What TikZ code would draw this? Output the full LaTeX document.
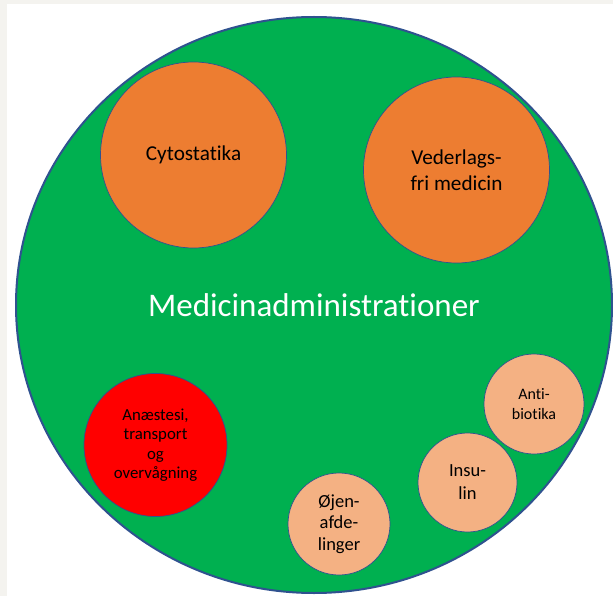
\documentclass[tikz,border=0pt]{standalone}
\usepackage{fontspec}
\setmainfont{Carlito}[Ligatures=NoCommon]
\usetikzlibrary{shapes.geometric}
\definecolor{paper}{HTML}{F4F3EF}
\definecolor{medgreen}{HTML}{00B050}
\definecolor{darkorange}{HTML}{ED7D31}
\definecolor{lightorange}{HTML}{F4B183}
\definecolor{edgeblue}{HTML}{2F528F}

\begin{document}
\begin{tikzpicture}[x=1pt,y=-1pt]
	\tikzstyle{bubble}=[circle,draw=edgeblue,line width=0.7pt,align=center,inner sep=0pt,text=black]
	\tikzstyle{big}=[bubble,fill=darkorange,minimum size=186pt,font=\fontsize{21.2}{26}\selectfont]
	\tikzstyle{small}=[bubble,fill=lightorange,minimum size=100pt,font=\fontsize{18.5}{22}\selectfont]
	% background
	\fill[paper] (0,0) rectangle (613,596);
	\fill[white] (7,4) rectangle (613,596);
	\node[ellipse,draw=edgeblue,line width=2pt,fill=medgreen,minimum width=596pt,minimum height=576pt,text=white,font=\fontsize{33}{40}\selectfont](med) at (314,305) {Medicinadministrationer};
	\node[big](cyt) at (193.5,155) {Cytostatika};
	\node[big](ved) at (456.5,170) {Vederlags-\\fri medicin};
	\node[bubble,fill=red,minimum size=143pt,font=\fontsize{16.8}{19.4}\selectfont](ana) at (155.5,445) {Anæstesi,\\transport\\og\\overvågning};
	\node[small,minimum size=102pt,font=\fontsize{18.5}{21.5}\selectfont](oej) at (339,524) {Øjen-\\afde-\\linger};
	\node[small,minimum size=99pt,font=\fontsize{18.5}{23}\selectfont](ins) at (467.5,482.5) {Insu-\\lin};
	\node[small,font=\fontsize{16}{20}\selectfont](ant) at (534,404) {Anti-\\biotika};
\end{tikzpicture}
\end{document}
